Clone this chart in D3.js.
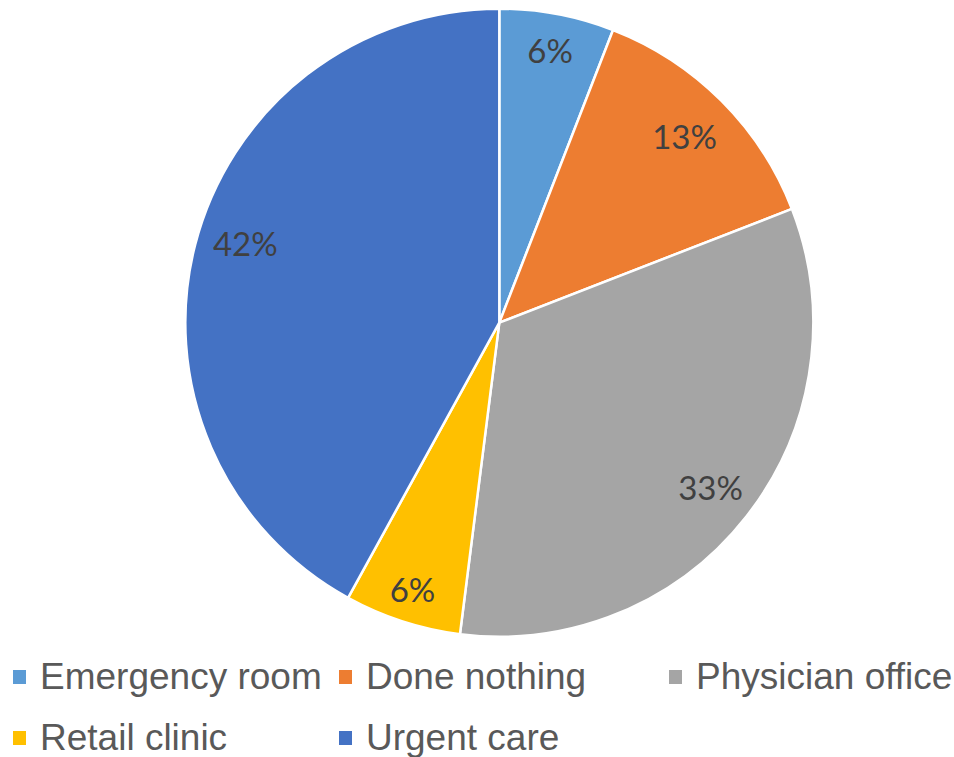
<!DOCTYPE html>
<html>
<head>
<meta charset="utf-8">
<script src="https://cdn.jsdelivr.net/npm/d3@7"></script>
<style>
  html, body { margin: 0; padding: 0; background: #fff; }
  svg { display: block; }
</style>
</head>
<body>
<div id="chart"></div>
<script>
// data
const categories = ["Emergency room", "Done nothing", "Physician office", "Retail clinic", "Urgent care"];
const shares = [5.9, 13.2, 32.9, 6.0, 42.0];
const colors = ["#5B9BD5", "#ED7D31", "#A5A5A5", "#FFC000", "#4472C4"];

const width = 954, height = 757;
const cx = 499.3, cy = 322.7, radius = 314;

// label placement (Excel "best fit" puts them a bit unevenly)
const labelRadius = [276, 262, 268, 281, 266];
const labelTurn = [0, 0, 0, 0, 0.05];

const svg = d3.select("#chart").append("svg")
    .attr("width", width)
    .attr("height", height);

const pie = d3.pie().sort(null).value(d => d.value);
const slices = pie(categories.map((c, i) => ({ name: c, value: shares[i], color: colors[i] })));

const arc = d3.arc().innerRadius(0).outerRadius(radius);

const g = svg.append("g").attr("transform", `translate(${cx},${cy})`);

// slices
g.selectAll("path.slice")
    .data(slices)
    .join("path")
    .attr("class", "slice")
    .attr("d", arc)
    .attr("fill", d => d.data.color)
    .attr("stroke", "#fff")
    .attr("stroke-width", 2.5)
    .attr("stroke-linejoin", "round");

// percentage labels
function labelPos(d, i) {
    const a = (d.startAngle + d.endAngle) / 2 + labelTurn[i];
    const r = labelRadius[i];
    return [Math.sin(a) * r, -Math.cos(a) * r];
}

g.selectAll("text.pct")
    .data(slices)
    .join("text")
    .attr("class", "pct")
    .attr("transform", (d, i) => `translate(${labelPos(d, i)})`)
    .attr("text-anchor", "middle")
    .attr("dy", "0.36em")
    .attr("font-family", "Lato, 'Open Sans', sans-serif")
    .attr("font-size", 33)
    .attr("fill", "#404040")
    .text(d => Math.round(d.data.value) + "%");

// legend (two rows, like the Excel layout)
const legendCols = [13, 339, 669];
const legendRows = [689, 750];
const legendItems = slices.map((d, i) => ({
    name: d.data.name,
    color: d.data.color,
    x: legendCols[i % 3],
    y: legendRows[Math.floor(i / 3)]
}));

const legend = svg.append("g").attr("class", "legend");
const item = legend.selectAll("g")
    .data(legendItems)
    .join("g")
    .attr("transform", d => `translate(${d.x},${d.y})`);

item.append("rect")
    .attr("x", 0)
    .attr("y", -19)
    .attr("width", 13)
    .attr("height", 14)
    .attr("fill", d => d.color);

item.append("text")
    .attr("x", 27)
    .attr("y", 0)
    .attr("font-family", "'Liberation Sans', Arial, sans-serif")
    .attr("font-size", 37)
    .attr("fill", "#595959")
    .text(d => d.name);
</script>
</body>
</html>
